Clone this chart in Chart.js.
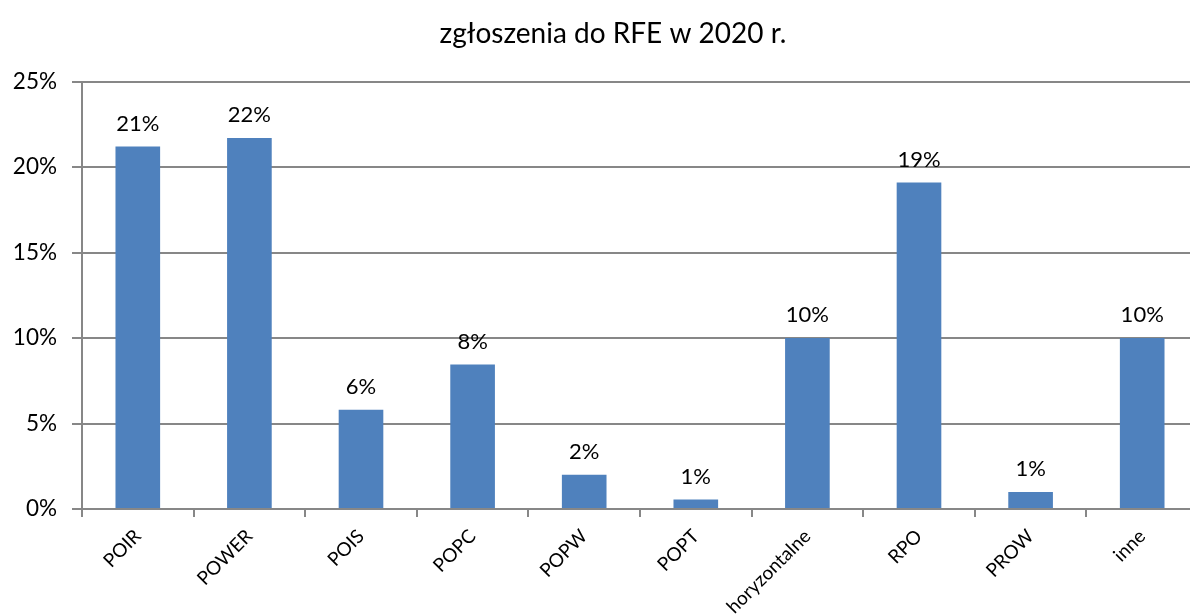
<!DOCTYPE html>
<html lang="pl">
<head>
    <meta charset="UTF-8">
    <title>zgłoszenia do RFE w 2020 r.</title>
    <script src="https://cdn.jsdelivr.net/npm/chart.js@4/dist/chart.umd.min.js"></script>
    <style>
        html, body { margin: 0; padding: 0; background: #fff; overflow: hidden; }
        #wrap { width: 1190px; height: 614px; overflow: hidden; }
    </style>
</head>
<body>
<div id="wrap"><canvas id="myChart" width="1226" height="614"></canvas></div>

<script>
    var categories = ["POIR", "POWER", "POIS", "POPC", "POPW", "POPT", "horyzontalne", "RPO", "PROW", "inne"];
    var shares = [21.2, 21.7, 5.8, 8.45, 2.0, 0.55, 10.0, 19.1, 1.0, 10.0];
    var yTicks = [0, 5, 10, 15, 20, 25];

    var FONT = "Lato, 'Open Sans', sans-serif";
    var GRID = "#878787";

    // draws the rounded percent above each bar
    var valueLabels = {
      id: 'valueLabels',
      afterLayout: function(chart) {
        // the original title sits a bit right of the page centre
        var t = chart.titleBlock;
        if (t) { t.left += 14; t.right += 14; }
      },
      afterDatasetsDraw: function(chart) {
        var ctx = chart.ctx;
        var meta = chart.getDatasetMeta(0);
        ctx.save();
        ctx.font = "22px " + FONT;
        ctx.fillStyle = "#000";
        ctx.textAlign = "center";
        ctx.textBaseline = "bottom";
        meta.data.forEach(function(bar, i) {
          ctx.fillText(Math.round(shares[i]) + "%", bar.x, bar.y - 12);
        });
        ctx.restore();
      }
    };

    Chart.defaults.font.family = FONT;
    Chart.defaults.color = "#000";

    var ctx = document.getElementById('myChart').getContext('2d');
    var myChart = new Chart(ctx, {
      type: 'bar',
      data: {
        labels: categories,
        datasets: [{
          data: shares,
          backgroundColor: "#4F81BD",
          borderWidth: 0,
          categoryPercentage: 1,
          barPercentage: 0.4
        }]
      },
      plugins: [valueLabels],
      options: {
        responsive: false,
        animation: false,
        layout: { padding: { left: 0, right: 28, top: 0, bottom: 0 } },
        plugins: {
          legend: { display: false },
          tooltip: { enabled: false },
          title: {
            display: true,
            text: "zgłoszenia do RFE w 2020 r.",
            color: "#000",
            font: { size: 28, weight: 'normal' },
            padding: { top: 17, bottom: 31 }
          }
        },
        scales: {
          x: {
            offset: true,
            grid: {
              offset: true,
              drawOnChartArea: false,
              drawTicks: true,
              tickLength: 8,
              color: GRID,
              lineWidth: 2
            },
            border: { display: true, color: GRID, width: 2 },
            ticks: {
              minRotation: 45,
              maxRotation: 45,
              padding: 8,
              font: { size: 19 },
              color: "#000"
            },
            afterFit: function(axis) { axis.height = 105; }
          },
          y: {
            min: 0,
            max: 25,
            afterBuildTicks: function(axis) {
              axis.ticks = yTicks.map(function(v) { return { value: v }; });
            },
            grid: {
              color: GRID,
              lineWidth: 2,
              tickLength: 10
            },
            border: { display: true, color: GRID, width: 2 },
            ticks: {
              padding: 15,
              font: { size: 22.5 },
              color: "#000",
              callback: function(v) { return v + "%"; }
            },
            afterFit: function(axis) { axis.width = 82; }
          }
        }
      }
    });
</script>
</body>
</html>
